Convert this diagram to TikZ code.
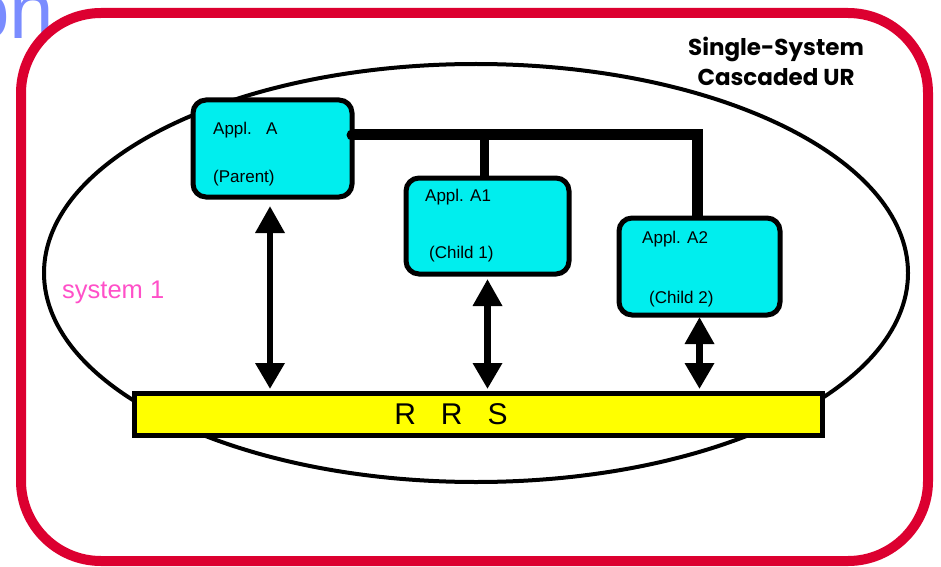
\documentclass[tikz,border=0pt]{standalone}
\usepackage{fontspec}
\setmainfont{Liberation Sans}
\newfontfamily\headfont{Poppins}
\usetikzlibrary{arrows.meta,shapes.geometric}

\definecolor{frameRed}{RGB}{220,0,48}
\definecolor{appCyan}{RGB}{0,238,238}
\definecolor{busYellow}{RGB}{255,255,0}
\definecolor{sysPink}{RGB}{255,80,200}
\definecolor{titleBlue}{RGB}{122,140,255}

\tikzset{
  x=1pt, y=1pt,
  appbox/.style={draw=black, fill=appCyan, line width=5pt, rounded corners=13pt,
    inner sep=0pt, outer sep=0pt},
  rrsbar/.style={draw=black, fill=busYellow, line width=5pt, inner sep=0pt, outer sep=0pt,
    minimum width=688pt, minimum height=42pt},
  applabel/.style={anchor=base west, inner sep=0pt, font=\fontsize{17}{20}\selectfont},
  busline/.style={line width=11pt, line join=miter},
  stemline/.style={line width=9pt},
  biarrow/.style={line width=6.5pt,
    {Triangle[length=27pt,width=28pt]}-{Triangle[length=26pt,width=28pt]}},
}

\begin{document}
\begin{tikzpicture}
\useasboundingbox (0,0) rectangle (941,566);

% heading fragment running off the page edge
\node[anchor=base west, inner sep=0pt, text=titleBlue,
      font=\fontsize{80}{90}\selectfont] (heading) at (-35,527) {on};

% outer rounded frame
\draw[frameRed, line width=10pt, rounded corners=80pt] (21,5) rectangle (928,553);

% system boundary
\draw[line width=4pt] (476,293) ellipse [x radius=432, y radius=209];

\node[anchor=base west, inner sep=0pt, text=sysPink,
      font=\fontsize{25.5}{30}\selectfont] (sys) at (62,268) {system 1};

\node[align=center, inner sep=0pt, font=\headfont\bfseries\fontsize{23}{30}\selectfont]
  (title) at (776,505) {Single-System\\Cascaded UR};

% applications
\node[appbox, minimum width=159pt, minimum height=97pt] (A)  at (272.5,417.5) {};
\node[appbox, minimum width=163pt, minimum height=96pt] (A1) at (487.5,340) {};
\node[appbox, minimum width=161pt, minimum height=97pt] (A2) at (699.5,299.5) {};

\node[applabel] (lA)   at (213,431) {Appl.\ \ \ A};
\node[applabel] (lAp)  at (213,384) {(Parent)};
\node[applabel] (lA1)  at (425,365) {Appl. A1};
\node[applabel] (lA1c) at (429,308) {(Child 1)};
\node[applabel] (lA2)  at (642,323) {Appl. A2};
\node[applabel] (lA2c) at (649,263) {(Child 2)};

% RRS bar
\node[rrsbar] (R) at (478,152) {};
\node[anchor=base, inner sep=0pt, font=\fontsize{30}{34}\selectfont] (lR) at (451,142)
  {R\ \ \ R\ \ \ S};

% cascade bus between parent and children
\coordinate (busL) at ([yshift=13.5pt]A.east);
\coordinate (busR) at (697,431);
\coordinate (tap)  at (484,431);
\draw[busline] (busL) -- (busR) -- (busR |- A2.north);
\fill (busL) circle (5.5pt);
\draw[stemline] (tap) -- (tap |- A1.north);

% links to RRS
\draw[biarrow, shorten <=9pt, shorten >=4pt]
  ([xshift=-2.5pt]A.south) -- ([xshift=-2.5pt]A.south |- R.north);
\draw[biarrow, shorten <=5pt, shorten >=4pt] (A1.south) -- (A1.south |- R.north);
\draw[biarrow, shorten <=2pt, shorten >=4pt] (A2.south) -- (A2.south |- R.north);
\end{tikzpicture}
\end{document}
